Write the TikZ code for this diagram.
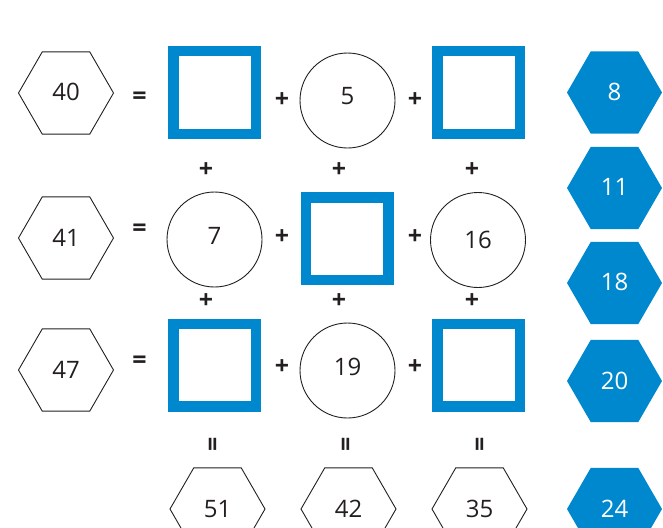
\documentclass[tikz,border=0pt]{standalone}
\usepackage{fontspec}
\setmainfont{Open Sans}
\usetikzlibrary{shapes.geometric}
\definecolor{puzzleblue}{HTML}{0088CE}
\definecolor{ink}{HTML}{231F20}
% digits in the circles sit a little above the centre
\newcommand\lift[1]{\raisebox{4pt}[\height][\depth]{#1}}

\begin{document}
\begin{tikzpicture}[x=1pt, y=-1pt,
  hexa/.style={draw=ink, regular polygon, regular polygon sides=6,
               minimum size=95pt, inner sep=0pt, line width=0.9pt,
               font=\fontsize{24}{24}\selectfont, text=ink},
  answer/.style={hexa, draw=none, fill=puzzleblue, text=white},
  blank/.style={draw=puzzleblue, line width=10.5pt, minimum size=82.5pt, inner sep=0pt},
  given/.style={draw=ink, circle, minimum size=95pt, inner sep=0pt, line width=0.9pt,
                font=\fontsize{24}{24}\selectfont, text=ink},
  op/.style={font=\fontsize{25}{25}\selectfont\bfseries, text=ink, inner sep=0pt},
  vop/.style={op, rotate=90}
]
\clip (0,0) rectangle (663,527);

% row 1: 40 = [] + 5 + []
\node[hexa] (sum1) at (66,93) {\raisebox{1.5pt}{40}};
\node[op] (eq1) at (139.5,98) {=};
\node[blank] (b11) at (214.5,92.5) {};
\node[op] (p11) at (282,100) {+};
\node[given] (c12) at (347.5,100.5) {\lift{5}};
\node[op] (p12) at (415,100) {+};
\node[blank] (b13) at (478.5,92.5) {};

% pluses between row 1 and row 2
\node[op] (v11) at (206,170) {+};
\node[op] (v12) at (339,170) {+};
\node[op] (v13) at (472,170) {+};

% row 2: 41 = 7 + [] + 16
\node[hexa] (sum2) at (66,238) {41};
\node[op] (eq2) at (139.5,230) {=};
\node[given] (c21) at (214.5,239.5) {\lift{7}};
\node[op] (p21) at (282,237) {+};
\node[blank] (b22) at (347,238.5) {};
\node[op] (p22) at (415,237) {+};
\node[given] (c23) at (478,240) {16};

% pluses between row 2 and row 3
\node[op] (v21) at (206,301) {+};
\node[op] (v22) at (339,301) {+};
\node[op] (v23) at (472,301) {+};

% row 3: 47 = [] + 19 + []
\node[hexa] (sum3) at (66,370) {47};
\node[op] (eq3) at (139.5,362) {=};
\node[blank] (b31) at (214.5,365) {};
\node[op] (p31) at (282,367) {+};
\node[given] (c32) at (347.5,370.5) {\lift{19}};
\node[op] (p32) at (415,367) {+};
\node[blank] (b33) at (478.5,365) {};

% column sums
\node[vop] (ve1) at (215,444) {=};
\node[vop] (ve2) at (348,444) {=};
\node[vop] (ve3) at (482,444) {=};
\node[hexa] (col1) at (217.5,509) {51};
\node[hexa] (col2) at (348.5,509) {42};
\node[hexa] (col3) at (479.5,509) {35};

% numbers to choose from
\node[answer] (n8) at (614.5,92.5) {\raisebox{2pt}{8}};
\node[answer] (n11) at (614.5,188) {\raisebox{2pt}{11}};
\node[answer] (n18) at (614.5,283) {\raisebox{2pt}{18}};
\node[answer] (n20) at (614.5,381) {20};
\node[answer] (n24) at (614.5,509) {24};
\end{tikzpicture}
\end{document}
